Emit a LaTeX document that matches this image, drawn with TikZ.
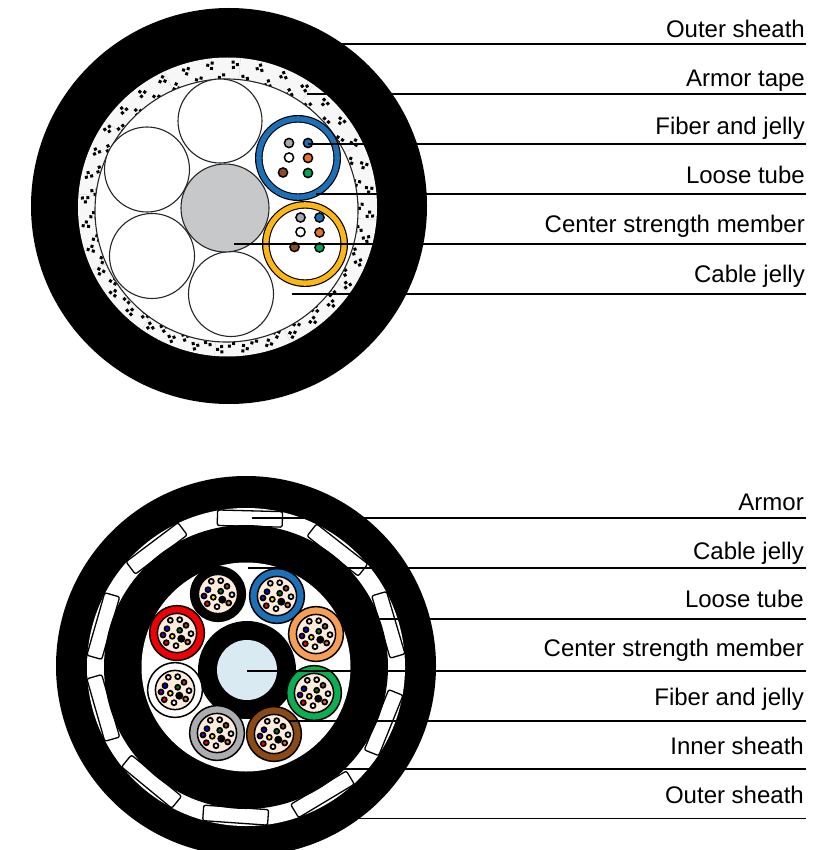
\documentclass[tikz,border=0pt]{standalone}
\usepackage{fontspec}
\setmainfont{Liberation Sans}
\definecolor{cblue}{HTML}{1B70B8}
\definecolor{cyellow}{HTML}{FDB714}
\definecolor{cgray}{HTML}{C7C8CA}
\definecolor{corange}{HTML}{F79E55}
\definecolor{cgreen}{HTML}{0BAE52}
\definecolor{cbrown}{HTML}{8B4A14}
\definecolor{cred}{HTML}{F00000}
\definecolor{ctube}{HTML}{ABADB0}
\definecolor{ccream}{HTML}{FDEBDC}
\definecolor{cice}{HTML}{D9EAF3}
\definecolor{ctape}{HTML}{F7F7F7}
\definecolor{fgray}{HTML}{A7A9AC}
\definecolor{forange}{HTML}{E8702A}
\definecolor{fbrown}{HTML}{8B4A20}
\definecolor{fgreen}{HTML}{00A651}
\tikzset{
  thin line/.style={draw=black!85,line width=1.1pt},
  leader/.style={draw=black,line width=1.1pt},
  lab/.style={font=\fontsize{24}{26}\selectfont,anchor=base east,inner sep=0pt},
  armorbox/.style={draw=black,fill=white,line width=1.3pt,rectangle,rounded corners=2pt,minimum width=65pt,minimum height=15.5pt,inner sep=0pt},
}
% big tube with six fibres (top cable): centre x, centre y, colour, fibre offset x, y
\newcommand{\sixtube}[5]{%
  \begin{scope}[shift={(#1,#2)}]
    \fill[black] (0,0) circle (43);
    \fill[#3] (0,0) circle (41.8);
    \fill[black] (0,0) circle (36.4);
    \fill[white] (0,0) circle (35.3);
    \foreach \fx/\fy/\fc in {-9/-15/fgray,10/-15/cblue,-9/-0.5/white,10/0/forange,-15/14.5/fbrown,10/15/fgreen}{
      \draw[fill=\fc,line width=1.5pt] (\fx+#4,\fy+#5) circle (4.6);
    }
  \end{scope}}
% small tube with twelve fibres (bottom cable)
\newcommand{\dozentube}[3]{%
  \begin{scope}[shift={(#1,#2)}]
    \draw[fill=#3,line width=1.5pt] (0,0) circle (27.4);
    \draw[fill=ccream,line width=1.5pt] (0,0) circle (19.6);
    \foreach \fx/\fy/\fc in {-6.7/-12.7/ccream!60!pink,2.7/-13.3/ccream!50!cice,9/-7.7/fbrown,14/0.7/cice,10.7/9/forange,-1/12.7/white,-10.7/9.7/red,-4.7/3.3/yellow,-14/2/violet!70!blue,-10/-4.3/blue,2.7/-2.7/green!50!black}{
      \draw[fill=\fc,line width=1.7pt] (\fx,\fy) circle (2.5);
    }
    \fill[black] (4.3,5.7) circle (4);
  \end{scope}}
\begin{document}
\begin{tikzpicture}[x=1pt,y=-1pt]
\useasboundingbox (0,0) rectangle (833,850);
\begin{scope}
\clip (0,0) rectangle (833,850);
% ===== top cable =====
\fill[black] (229,206) circle (198);
\fill[ctape] (227.5,207) circle (149.5);
\begin{scope}
  \clip (227.5,207) circle (149.5);
  \foreach \a in {0,30,...,330}{
    \draw[black!14,line width=0.5pt] ({227.5+128*cos(\a+5)},{207+128*sin(\a+5)}) -- ({227.5+150*cos(\a+5)},{207+150*sin(\a+5)});
  }
  \foreach \i in {0,...,35}{
    \pgfmathsetmacro{\ang}{\i*10+3}
    \pgfmathsetmacro{\flip}{mod(\i,3)==0 ? 90 : -90}
    \begin{scope}[shift={({227.5+142.5*cos(\ang)},{207+142.5*sin(\ang)})},rotate={\ang+\flip}]
      \fill[black] (-3.2,-4.2) rectangle ++(3,3);
      \fill[black] (0.9,-1.5) rectangle ++(3,3);
      \fill[black] (-3.2,1.2) rectangle ++(3,3);
    \end{scope}
    \pgfmathsetmacro{\angb}{\i*10+8}
    \begin{scope}[shift={({226.5+133*cos(\angb)},{210.5+133*sin(\angb)})},rotate={\angb+\flip}]
      \fill[black] (-3.2,-4.2) rectangle ++(3,3);
      \fill[black] (0.9,-1.5) rectangle ++(3,3);
      \fill[black] (-3.2,1.2) rectangle ++(3,3);
    \end{scope}
  }
\end{scope}
\draw[thin line,fill=white] (226.5,210.5) circle (131.5);
\draw[thin line,fill=white] (220,121) circle (42);
\draw[thin line,fill=white] (147,169.5) circle (42.5);
\draw[thin line,fill=white] (152,256) circle (42.5);
\draw[thin line,fill=white] (231,294) circle (42.5);
\draw[thin line,fill=cgray] (225,208) circle (44);
\sixtube{298}{158}{cblue}{0}{0}
\sixtube{305}{244}{cyellow}{4.5}{-11.5}
% ===== bottom cable =====
\fill[black] (246,666) circle (190);
\fill[white] (246,667) circle (159);
\foreach \a in {88.5,52,16.5,-22,-59,-94,-129.5,-164,-196,-233}{
  \node[armorbox,rotate={\a-90}] (arm\a) at ({246+148.5*cos(\a)},{667-148.5*sin(\a)}) {};
}
\fill[black] (246,667) circle (142);
\fill[white] (246,667) circle (104.5);
\fill[black] (247,670) circle (49);
\fill[cice] (247,670) circle (30);
\dozentube{218}{594}{black}
\dozentube{277}{596}{cblue}
\dozentube{316}{634}{corange}
\dozentube{314}{693}{cgreen}
\dozentube{274}{734}{cbrown}
\dozentube{217}{733}{ctube}
\dozentube{175}{690}{white}
\dozentube{177}{633}{cred}
% ===== labels =====
\node[lab] (t1) at (805,38) {Outer sheath};
\node[lab] (t2) at (805,87) {Armor tape};
\node[lab] (t3) at (805,135) {Fiber and jelly};
\node[lab] (t4) at (805,184) {Loose tube};
\node[lab] (t5) at (805,233) {Center strength member};
\node[lab] (t6) at (805,282) {Cable jelly};
\node[lab] (b1) at (804,510) {Armor};
\node[lab] (b2) at (804,559) {Cable jelly};
\node[lab] (b3) at (804,607) {Loose tube};
\node[lab] (b4) at (804,656) {Center strength member};
\node[lab] (b5) at (804,705) {Fiber and jelly};
\node[lab] (b6) at (804,754) {Inner sheath};
\node[lab] (b7) at (804,803) {Outer sheath};
% ===== leaders =====
\foreach \nm/\sx/\sy in {t1/340/44,t2/307/94,t3/308/144,t4/316/194,t5/234/244,t6/292/294,
  b1/252/518,b2/248/568,b3/338/619,b4/247/671,b5/288/721,b6/340/769,b7/355/818.5}{
  \coordinate (s\nm) at (\sx,\sy);
  \coordinate (e\nm) at (806,\sy);
  \draw[leader] (s\nm) -- (e\nm);
}
\end{scope}
\end{tikzpicture}
\end{document}
